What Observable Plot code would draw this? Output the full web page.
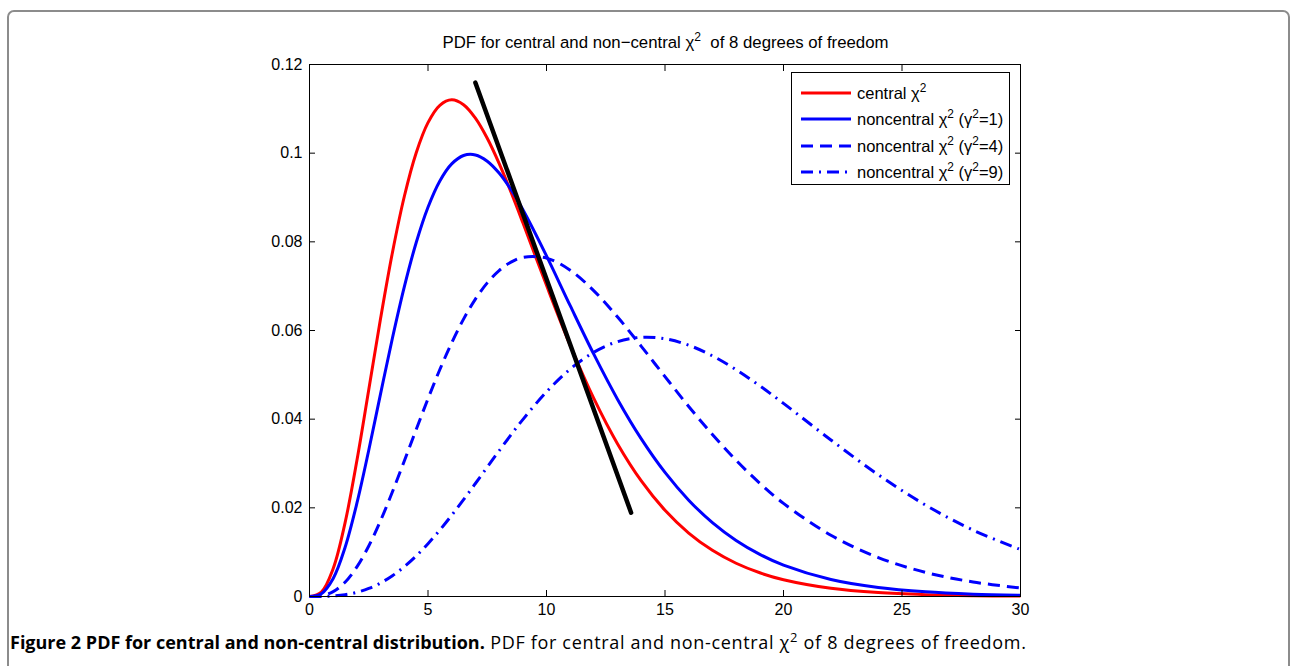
<!DOCTYPE html>
<html>
<head>
<meta charset="utf-8">
<script src="https://cdn.jsdelivr.net/npm/d3@7"></script>
<script src="https://cdn.jsdelivr.net/npm/@observablehq/plot@0.6"></script>
<style>
  html, body { margin: 0; padding: 0; background: #fff; }
  body { width: 1292px; height: 666px; position: relative; overflow: hidden; }
  #panel {
    position: absolute; left: 7px; top: 10px; width: 1283px; height: 720px;
    border: 2px solid #8c8c8c; border-radius: 7px; box-sizing: border-box;
  }
  #chart { position: absolute; left: 0; top: 0; }
  #title {
    position: absolute; left: 309px; width: 713px; top: 34px; text-align: center; line-height: 17px;
    font-family: "Liberation Sans", Arial, sans-serif; font-size: 16.8px; color: #000; white-space: nowrap;
  }
  #legend {
    position: absolute; left: 791px; top: 72px; width: 219px; height: 113px;
    border: 1px solid #000; background: #fff; box-sizing: border-box;
    font-family: "Liberation Sans", Arial, sans-serif; font-size: 16.5px; color: #000;
  }
  #legend .row { position: absolute; left: 9px; height: 26px; display: flex; align-items: center; white-space: nowrap; }
  #legend svg { margin-right: 6px; flex: none; }
  sup { font-size: 0.72em; line-height: 0; vertical-align: 0.55em; }
  #caption {
    position: absolute; left: 10px; top: 633px; white-space: nowrap; line-height: 18px;
    font-family: "Open Sans", "Noto Sans", sans-serif; font-size: 18px; color: #000;
  }
  #caption b { font-weight: 700; letter-spacing: 0; }
  #caption span { letter-spacing: 0.68px; }
</style>
</head>
<body>
<div id="panel"></div>
<div id="chart"></div>
<div id="title">PDF for central and non&minus;central &chi;<sup>2</sup>&nbsp; of 8 degrees of freedom</div>
<div id="legend"></div>
<div id="caption"><b>Figure 2 PDF for central and non-central distribution.</b><span> PDF for central and non-central &chi;<sup>2</sup> of 8 degrees of freedom.</span></div>
<script>
// Sample points of x (chi-square value)
const xs = [0, 0.5, 1, 1.5, 2, 2.5, 3, 3.5, 4, 4.5, 5, 5.5, 6, 6.5, 7, 7.5, 8, 8.5, 9, 10, 11, 12, 13, 14, 15,
            16, 17, 18, 19, 20, 22, 24, 26, 28, 30];

// Densities, 8 degrees of freedom
const central = [0, 0.001014, 0.006318, 0.016607, 0.030657, 0.046632, 0.062755, 0.077610, 0.090223, 0.100047,
                 0.106882, 0.110792, 0.112021, 0.110922, 0.107891, 0.103349, 0.097685, 0.091250, 0.084359,
                 0.070186, 0.056662, 0.044618, 0.034406, 0.026065, 0.019444,
                 0.014313, 0.010413, 0.007497, 0.005348, 0.003783, 0.001853, 0.000885, 0.000414, 0.000190, 0.000086];
const noncentral1 = [0, 0.000635, 0.004078, 0.011053, 0.021038, 0.032989, 0.045758, 0.058316, 0.069851, 0.079793,
                     0.087802, 0.093730, 0.097581, 0.099476, 0.099605, 0.098191, 0.095506, 0.091793, 0.087302,
                     0.076840, 0.065590, 0.054599, 0.044455, 0.035554, 0.027987,
                     0.021731, 0.016666, 0.012644, 0.009501, 0.007077, 0.003837, 0.002026, 0.001046, 0.000530, 0.000264];
const noncentral4 = [0, 0.000155, 0.001091, 0.003228, 0.006688, 0.011391, 0.017135, 0.023621, 0.030564, 0.037650,
                     0.044608, 0.051199, 0.057232, 0.062561, 0.067084, 0.070747, 0.073527, 0.075429, 0.076493,
                     0.076327, 0.073597, 0.068954, 0.063040, 0.056431, 0.049587,
                     0.042871, 0.036530, 0.030724, 0.025539, 0.021004, 0.013808, 0.008783, 0.005430, 0.003275, 0.001933];
const noncentral9 = [0, 0.000015, 0.000120, 0.000404, 0.000947, 0.001814, 0.003051, 0.004683, 0.006716, 0.009135,
                     0.011907, 0.014988, 0.018323, 0.021845, 0.025489, 0.029184, 0.032861, 0.036454, 0.039905,
                     0.046166, 0.051304, 0.055106, 0.057486, 0.058462, 0.058141,
                     0.056681, 0.054283, 0.051160, 0.047519, 0.043554, 0.035309, 0.027461, 0.020599, 0.014975, 0.010587];

// Straight black segment across the falling side of the central curve
const segmentX = [7.0, 13.57];
const segmentY = [0.1159, 0.0189];

// Axis ticks
const xTicks = [0, 5, 10, 15, 20, 25, 30];
const yTicks = [0, 0.02, 0.04, 0.06, 0.08, 0.1, 0.12];

// Series styling and legend text
const series = [
  {values: central,     color: "#ff0000", dash: null,       label: "central \u03c7<sup>2</sup>"},
  {values: noncentral1, color: "#0000ff", dash: null,       label: "noncentral \u03c7<sup>2</sup> (\u03b3<sup>2</sup>=1)"},
  {values: noncentral4, color: "#0000ff", dash: "12,7",     label: "noncentral \u03c7<sup>2</sup> (\u03b3<sup>2</sup>=4)"},
  {values: noncentral9, color: "#0000ff", dash: "12,6,2,6", label: "noncentral \u03c7<sup>2</sup> (\u03b3<sup>2</sup>=9)"}
];

const curveMarks = series.map(s =>
  Plot.line(xs.map((x, i) => ({x, y: s.values[i]})), {
    x: "x", y: "y", stroke: s.color, strokeWidth: 3, curve: "catmull-rom",
    strokeDasharray: s.dash ?? undefined, strokeLinecap: "butt"
  })
);

const chart = Plot.plot({
  width: 1292,
  height: 625,
  marginLeft: 309,
  marginRight: 272,
  marginTop: 64,
  marginBottom: 29,
  x: {domain: [0, 30]},
  y: {domain: [0, 0.12]},
  style: {fontFamily: "'Liberation Sans', Arial, sans-serif", fontSize: "16px", color: "#000", background: "transparent", overflow: "visible"},
  marks: [
    ...curveMarks,
    Plot.line(segmentX.map((x, i) => ({x, y: segmentY[i]})), {x: "x", y: "y", stroke: "#000", strokeWidth: 4.5}),
    Plot.frame({stroke: "#000", strokeWidth: 1}),
    Plot.axisX(xTicks, {anchor: "bottom", tickSize: -6, tickPadding: 13, label: null, tickFormat: d => String(d)}),
    Plot.axisX(xTicks, {anchor: "top", tickSize: -6, label: null, tickFormat: () => ""}),
    Plot.axisY(yTicks, {anchor: "left", tickSize: -6, tickPadding: 13, label: null, tickFormat: d => String(d)}),
    Plot.axisY(yTicks, {anchor: "right", tickSize: -6, label: null, tickFormat: () => ""})
  ]
});
document.getElementById("chart").appendChild(chart);

// Legend rows
const legend = document.getElementById("legend");
const rowTops = [7, 33, 60, 86];
series.forEach((s, i) => {
  const row = document.createElement("div");
  row.className = "row";
  row.style.top = rowTops[i] + "px";
  const dashAttr = s.dash ? ` stroke-dasharray="${s.dash}"` : "";
  row.innerHTML = `<svg width="50" height="6"><line x1="0" y1="3" x2="50" y2="3" stroke="${s.color}" stroke-width="3"${dashAttr}/></svg><span>${s.label}</span>`;
  legend.appendChild(row);
});
</script>
</body>
</html>
